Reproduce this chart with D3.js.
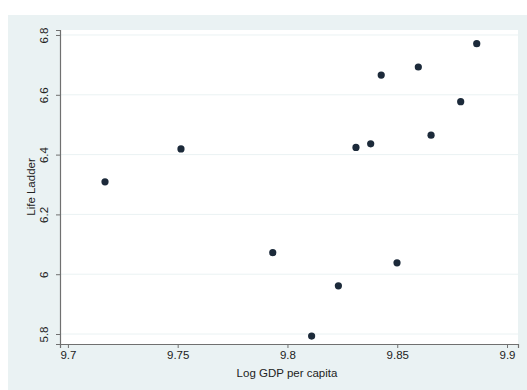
<!DOCTYPE html>
<html><head><meta charset="utf-8">
<script src="https://cdn.jsdelivr.net/npm/d3@7"></script>
<style>html,body{margin:0;padding:0;background:#fff;}svg{display:block;}</style>
</head><body>
<script>
const gdp = [9.7169, 9.7515, 9.7933, 9.8110, 9.8232, 9.8312, 9.8379, 9.8427, 9.8499, 9.8596, 9.8654, 9.8789, 9.8862];
const ladder = [6.309, 6.419, 6.072, 5.793, 5.961, 6.424, 6.436, 6.666, 6.038, 6.693, 6.465, 6.577, 6.771];
const xTicks = [9.7, 9.75, 9.8, 9.85, 9.9];
const yTicks = [5.8, 6, 6.2, 6.4, 6.6, 6.8];
const xTitle = "Log GDP per capita";
const yTitle = "Life Ladder";

const W = 527, H = 390;
const svg = d3.select("body").append("svg").attr("width", W).attr("height", H);
svg.append("rect").attr("x", 8).attr("y", 15).attr("width", W - 8).attr("height", H - 15).attr("fill", "#eaf2f3");

const L = 60, R = 518, T = 30, B = 344;
svg.append("rect").attr("x", L).attr("y", T).attr("width", R - L).attr("height", B - T).attr("fill", "#ffffff");

const x = d3.scaleLinear().domain([9.6964, 9.905]).range([L, R]);
const y = d3.scaleLinear().domain([5.7666, 6.8167]).range([B, T]);

// gridlines
svg.append("g").selectAll("line").data(yTicks).join("line")
  .attr("x1", L).attr("x2", R).attr("y1", d => y(d)).attr("y2", d => y(d))
  .attr("stroke", "#eaf2f3").attr("stroke-width", 1);

const font = "'Liberation Sans', Arial, sans-serif";

const xAxis = svg.append("g").attr("transform", `translate(0,${B})`)
  .call(d3.axisBottom(x).tickValues(xTicks).tickSize(4).tickPadding(3).tickFormat(d => String(d)));
const yAxis = svg.append("g").attr("transform", `translate(${L},0)`)
  .call(d3.axisLeft(y).tickValues(yTicks).tickSize(4).tickPadding(3).tickFormat(d => String(d)));

[xAxis, yAxis].forEach(g => {
  g.select(".domain").attr("stroke", "#707070").attr("stroke-width", 1.2);
  g.selectAll(".tick line").attr("stroke", "#707070");
  g.selectAll("text").attr("fill", "#222").style("font-family", font).style("font-size", "11.5px");
});
yAxis.selectAll(".tick text")
  .attr("text-anchor", "middle").attr("x", null).attr("dy", null)
  .attr("transform", "translate(-12,0) rotate(-90)");

svg.append("text").attr("x", (L + R) / 2 - 2).attr("y", 377).attr("text-anchor", "middle")
  .style("font-family", font).style("font-size", "11.5px").attr("fill", "#222").text(xTitle);
svg.append("text").attr("transform", `translate(35,${(T + B) / 2}) rotate(-90)`).attr("text-anchor", "middle")
  .style("font-family", font).style("font-size", "11.5px").attr("fill", "#222").text(yTitle);

svg.append("g").selectAll("circle").data(gdp.map((g, i) => [g, ladder[i]])).join("circle")
  .attr("cx", d => x(d[0])).attr("cy", d => y(d[1])).attr("r", 3.6).attr("fill", "#1c2a3a");
</script>
</body></html>
